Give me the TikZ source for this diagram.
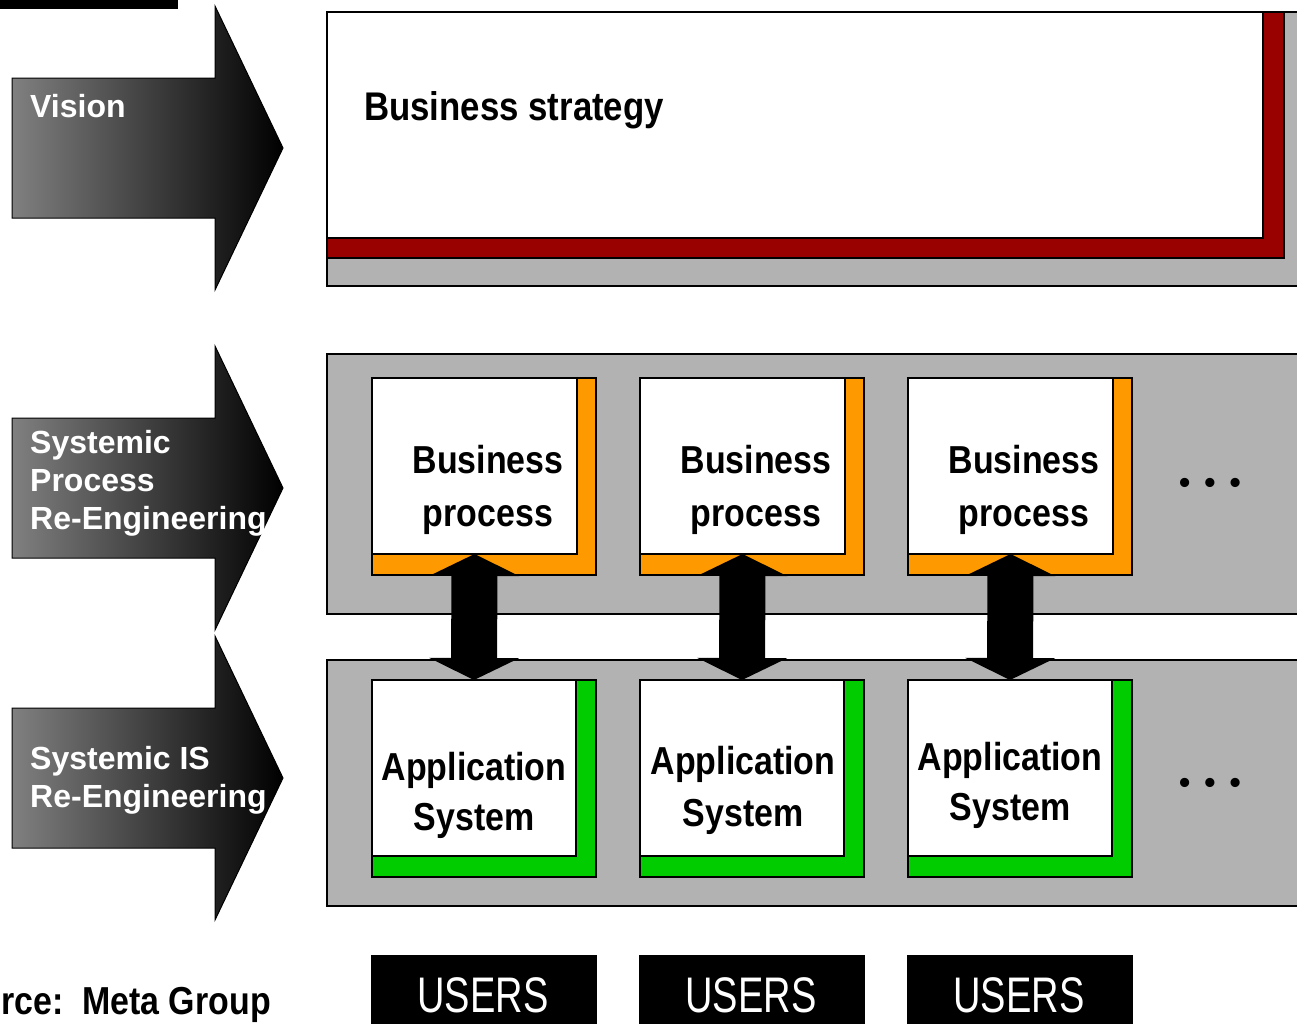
\documentclass[tikz,border=0pt]{standalone}
\usepackage{fontspec}
\setmainfont{Liberation Sans}
\newfontfamily\nbold{Liberation Sans Bold}[FakeStretch=0.87]
\newfontfamily\nreg{Liberation Sans}[FakeStretch=0.76]
\usetikzlibrary{arrows.meta}
\definecolor{panelgray}{RGB}{178,178,178}
\definecolor{arrowgray}{RGB}{128,128,128}
\definecolor{stratred}{RGB}{153,0,0}
\definecolor{procorange}{RGB}{255,153,0}
\definecolor{appgreen}{RGB}{0,204,0}
\begin{document}
\begin{tikzpicture}[x=1pt,y=-1pt,
  outl/.style={draw=black, line width=1.2pt},
  box/.style={outl, anchor=north west, inner sep=0pt, outer sep=0pt},
  panel/.style={box, fill=panelgray},
  bigarrow/.style={draw=black, line width=1pt, left color=arrowgray, right color=black},
  lbl/.style={text=white, font=\bfseries\fontsize{32}{38}\selectfont, anchor=base west, inner sep=0pt},
  btxt/.style={font=\nbold\fontsize{39}{47}\selectfont, anchor=base, inner sep=0pt},
  utxt/.style={text=white, font=\nreg\fontsize{50}{60}\selectfont, anchor=base, inner sep=0pt},
  dbl/.style={line width=46pt, {Triangle[width=90pt,length=22pt,line width=0pt]}-{Triangle[width=90pt,length=22pt,line width=0pt]}},
  dotsx/.style={font=\bfseries\fontsize{32}{32}\selectfont, inner sep=0pt}
]
\useasboundingbox (0,0) rectangle (1297,1023);
\clip (0,0) rectangle (1297,1023);
\fill[white] (0,0) rectangle (1297,1023);

% top-left bar
\fill[black] (0,0) rectangle (178,9);

% big left arrows
\foreach \c in {148,488,778}{
  \path[bigarrow] (12,\c-70) -- (215,\c-70) -- (215,\c-142) -- (283,\c)
     -- (215,\c+142) -- (215,\c+70) -- (12,\c+70) -- cycle;
}
\node[lbl] (vis) at (30,117) {Vision};
\node[lbl] (spr1) at (30,453) {Systemic};
\node[lbl] (spr2) at (30,491) {Process};
\node[lbl] (spr3) at (30,529) {Re-Engineering};
\node[lbl] (sis1) at (30,769) {Systemic IS};
\node[lbl] (sis2) at (30,807) {Re-Engineering};

% top panel: business strategy
\node[panel, minimum width=980pt, minimum height=274pt] (topshadow) at (327,12) {};
\node[box, fill=stratred, minimum width=957pt, minimum height=246pt] (stratred) at (327,12) {};
\node[box, fill=white, minimum width=936pt, minimum height=226pt] (strat) at (327,12) {};
\node[btxt, anchor=base west, font=\nbold\fontsize{40}{48}\selectfont] (strattxt) at (364,120) {Business strategy};

% middle and bottom panels
\node[panel, minimum width=980pt, minimum height=260pt] (midpanel) at (327,354) {};
\node[panel, minimum width=980pt, minimum height=246pt] (botpanel) at (327,660) {};

% business process / application system / users boxes
\foreach \i/\x in {1/372,2/640,3/908}{
  \node[box, fill=procorange, minimum width=224pt, minimum height=197pt] (bpo\i) at (\x,378) {};
  \node[box, fill=white, minimum width=205pt, minimum height=176pt] (bp\i) at (\x,378) {};
  \node[btxt] (bpa\i) at (\x+116,473) {Business};
  \node[btxt] (bpb\i) at (\x+116,526) {process};
  \node[box, fill=appgreen, minimum width=224pt, minimum height=197pt] (aso\i) at (\x,680) {};
  \node[box, fill=white, minimum width=204pt, minimum height=176pt] (as\i) at (\x,680) {};
  \node[box, fill=black, draw=black, minimum width=224pt, minimum height=90pt] (us\i) at (\x,956) {};
  \node[utxt] (ust\i) at (\x+111,1012) {USERS};
}
\node[btxt] (asa1) at (474,780) {Application};
\node[btxt] (asb1) at (474,830) {System};
\node[btxt] (asa2) at (743,774) {Application};
\node[btxt] (asb2) at (743,826) {System};
\node[btxt] (asa3) at (1010,770) {Application};
\node[btxt] (asb3) at (1010,820) {System};

% dots
\node[dotsx] (dots1) at (1210,486) {\textbullet\hspace{14pt}\textbullet\hspace{14pt}\textbullet};
\node[dotsx] (dots2) at (1210,786) {\textbullet\hspace{14pt}\textbullet\hspace{14pt}\textbullet};

% double arrows
\foreach \i in {1,2,3}{
  \draw[dbl] (bp\i.south) -- (as\i.north);
}

% source (shown cut off at the left edge in the reference)
\node[btxt, anchor=base west] (src) at (1,1014) {rce:\ \ Meta Group};
\end{tikzpicture}
\end{document}
